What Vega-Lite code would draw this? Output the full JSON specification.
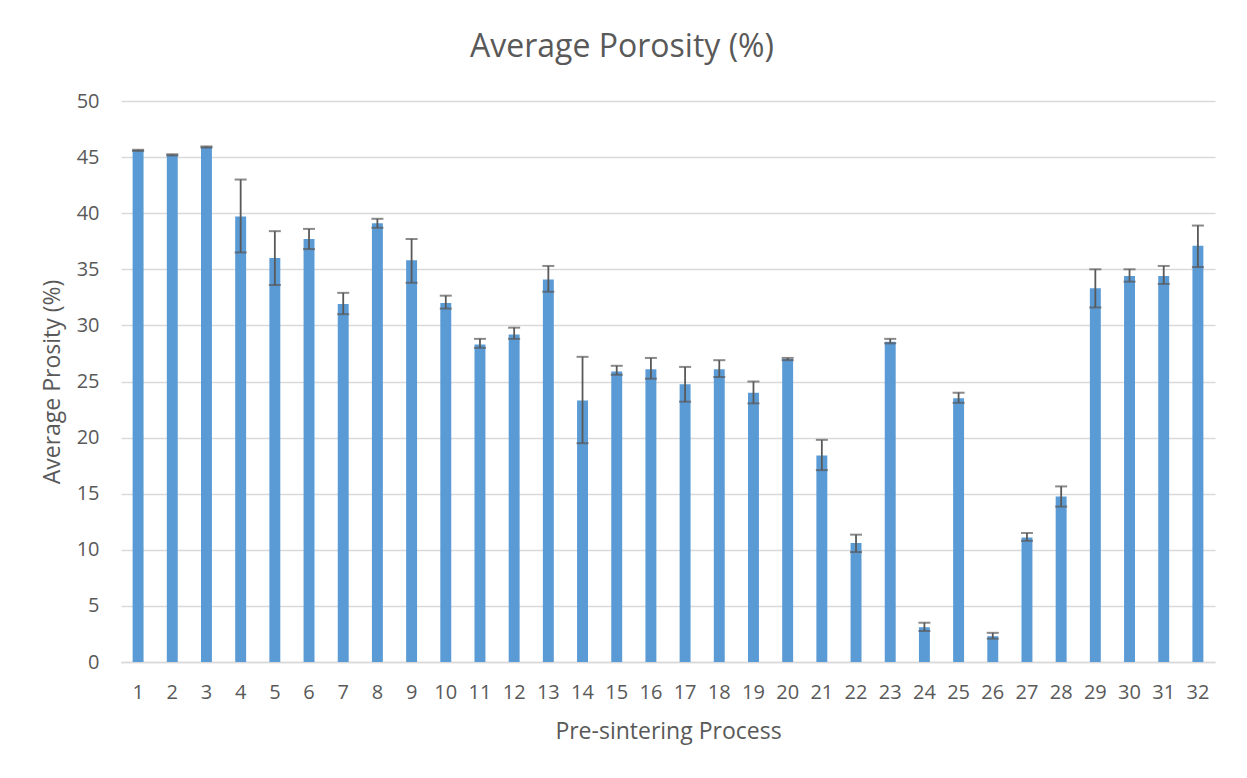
{
  "$schema": "https://vega.github.io/schema/vega-lite/v6.json",
  "width": 1094,
  "height": 561,
  "autosize": "none",
  "padding": {"left": 121, "top": 101, "right": 32, "bottom": 116},
  "background": "white",
  "title": {
    "text": "Average Porosity (%)",
    "fontSize": 32,
    "fontWeight": "normal",
    "font": "Open Sans",
    "color": "#595959",
    "anchor": "middle",
    "dx": -46,
    "offset": 27
  },
  "data": {
    "values": [
      {"process": 1, "porosity": 45.6, "lo": 45.55, "hi": 45.65},
      {"process": 2, "porosity": 45.2, "lo": 45.15, "hi": 45.25},
      {"process": 3, "porosity": 45.9, "lo": 45.85, "hi": 45.95},
      {"process": 4, "porosity": 39.7, "lo": 36.5, "hi": 43.0},
      {"process": 5, "porosity": 36.0, "lo": 33.6, "hi": 38.4},
      {"process": 6, "porosity": 37.7, "lo": 36.8, "hi": 38.6},
      {"process": 7, "porosity": 31.9, "lo": 31.0, "hi": 32.9},
      {"process": 8, "porosity": 39.1, "lo": 38.7, "hi": 39.5},
      {"process": 9, "porosity": 35.8, "lo": 33.8, "hi": 37.7},
      {"process": 10, "porosity": 32.0, "lo": 31.5, "hi": 32.65},
      {"process": 11, "porosity": 28.3, "lo": 28.0, "hi": 28.8},
      {"process": 12, "porosity": 29.2, "lo": 28.8, "hi": 29.8},
      {"process": 13, "porosity": 34.1, "lo": 33.0, "hi": 35.3},
      {"process": 14, "porosity": 23.3, "lo": 19.5, "hi": 27.2},
      {"process": 15, "porosity": 25.9, "lo": 25.6, "hi": 26.4},
      {"process": 16, "porosity": 26.1, "lo": 25.25, "hi": 27.1},
      {"process": 17, "porosity": 24.75, "lo": 23.2, "hi": 26.3},
      {"process": 18, "porosity": 26.1, "lo": 25.4, "hi": 26.9},
      {"process": 19, "porosity": 24.0, "lo": 23.05, "hi": 25.0},
      {"process": 20, "porosity": 27.0, "lo": 26.9, "hi": 27.1},
      {"process": 21, "porosity": 18.4, "lo": 17.1, "hi": 19.8},
      {"process": 22, "porosity": 10.6, "lo": 9.8, "hi": 11.35},
      {"process": 23, "porosity": 28.55, "lo": 28.4, "hi": 28.8},
      {"process": 24, "porosity": 3.1, "lo": 2.76, "hi": 3.5},
      {"process": 25, "porosity": 23.5, "lo": 23.1, "hi": 24.0},
      {"process": 26, "porosity": 2.3, "lo": 2.08, "hi": 2.6},
      {"process": 27, "porosity": 11.1, "lo": 10.8, "hi": 11.5},
      {"process": 28, "porosity": 14.75, "lo": 13.85, "hi": 15.65},
      {"process": 29, "porosity": 33.3, "lo": 31.6, "hi": 35.0},
      {"process": 30, "porosity": 34.4, "lo": 33.9, "hi": 35.0},
      {"process": 31, "porosity": 34.4, "lo": 33.7, "hi": 35.3},
      {"process": 32, "porosity": 37.1, "lo": 35.2, "hi": 38.9}
    ]
  },
  "encoding": {
    "x": {
      "field": "process",
      "type": "ordinal",
      "title": "Pre-sintering Process",
      "scale": {"paddingInner": 0.68, "paddingOuter": 0.34},
      "axis": {
        "labelAngle": 0,
        "labelPadding": 20,
        "titlePadding": 18,
        "ticks": false,
        "domainColor": "#d9d9d9",
        "domainWidth": 1.5
      }
    }
  },
  "layer": [
    {
      "mark": {"type": "bar", "color": "#5b9bd5"},
      "encoding": {
        "y": {
          "field": "porosity",
          "type": "quantitative",
          "title": "Average Prosity (%)",
          "scale": {"domain": [0, 50]},
          "axis": {
            "values": [0, 5, 10, 15, 20, 25, 30, 35, 40, 45, 50],
            "ticks": false,
            "domain": false,
            "labelPadding": 22,
            "titlePadding": 12,
            "gridColor": "#d9d9d9",
            "gridWidth": 1.5
          }
        }
      }
    },
    {
      "mark": {"type": "rule", "color": "#595959", "strokeWidth": 1.8},
      "encoding": {
        "y": {"field": "lo", "type": "quantitative"},
        "y2": {"field": "hi"}
      }
    },
    {
      "mark": {"type": "tick", "color": "#595959", "thickness": 2, "size": 12, "orient": "horizontal"},
      "encoding": {
        "y": {"field": "lo", "type": "quantitative"}
      }
    },
    {
      "mark": {"type": "tick", "color": "#595959", "thickness": 2, "size": 12, "orient": "horizontal"},
      "encoding": {
        "y": {"field": "hi", "type": "quantitative"}
      }
    }
  ],
  "config": {
    "view": {"stroke": null},
    "font": "Open Sans",
    "axis": {
      "labelFont": "Open Sans",
      "titleFont": "Open Sans",
      "labelFontSize": 20,
      "titleFontSize": 23,
      "titleFontWeight": "normal",
      "labelColor": "#595959",
      "titleColor": "#595959"
    }
  }
}
